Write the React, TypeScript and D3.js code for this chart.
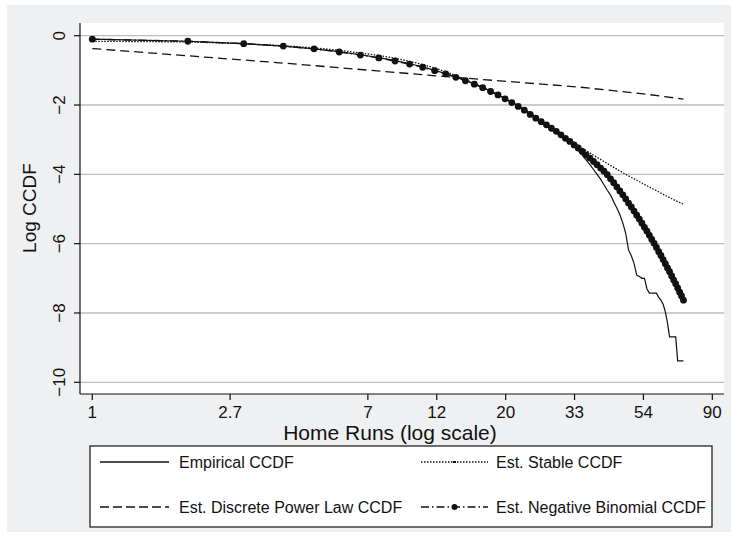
import React from 'react';
import * as d3 from 'd3';

// home runs (x) and log CCDF values
const nbX = d3.range(1, 74);
const nbY = [
  -0.10, -0.16, -0.23, -0.30, -0.38, -0.47, -0.56, -0.64, -0.73, -0.82,
  -0.91, -1.01, -1.10, -1.20, -1.30, -1.40, -1.50, -1.61, -1.71, -1.82,
  -1.93, -2.04, -2.15, -2.27, -2.38, -2.48, -2.57, -2.67, -2.76, -2.86,
  -2.96, -3.05, -3.15, -3.24, -3.34, -3.44, -3.53, -3.63, -3.72, -3.82,
  -3.91, -4.01, -4.13, -4.24, -4.36, -4.48, -4.59, -4.71, -4.83, -4.94,
  -5.06, -5.18, -5.29, -5.41, -5.53, -5.64, -5.76, -5.88, -5.99, -6.11,
  -6.23, -6.34, -6.46, -6.58, -6.70, -6.81, -6.93, -7.05, -7.16, -7.28,
  -7.40, -7.51, -7.63,
];

const empX = [
  1, 2, 3, 4, 5, 6, 7, 8, 9, 10, 11, 12, 13, 14, 15, 16, 17, 18, 19, 20,
  21, 22, 23, 24, 25, 26, 27, 28, 29, 30, 31, 32, 33, 34, 35, 36, 37, 38, 39, 40,
  41, 42, 43, 44, 45, 46, 47, 48, 49, 50, 51, 52, 53, 54, 55, 56, 57, 58, 59, 60,
  61, 62, 63, 64, 65, 66, 69, 70, 73,
];
const empY = [
  -0.10, -0.16, -0.23, -0.30, -0.38, -0.46, -0.55, -0.63, -0.72, -0.81,
  -0.90, -1.00, -1.09, -1.19, -1.29, -1.39, -1.49, -1.60, -1.70, -1.81,
  -1.92, -2.03, -2.14, -2.26, -2.37, -2.47, -2.57, -2.66, -2.76, -2.86,
  -2.96, -3.06, -3.17, -3.30, -3.44, -3.58, -3.72, -3.86, -4.00, -4.14,
  -4.30, -4.46, -4.60, -4.79, -4.97, -5.16, -5.40, -5.70, -6.18, -6.35,
  -6.57, -6.91, -6.95, -7.00, -7.00, -7.30, -7.43, -7.43, -7.43, -7.43,
  -7.55, -7.63, -7.75, -7.97, -8.28, -8.69, -8.69, -9.38, -9.38,
];

const stableX = [1, 2, 3, 4, 5, 6, 7, 8, 9, 10, 11, 12, 13, 14, 15, 16, 17, 18, 19, 20,
  22, 24, 26, 28, 30, 32, 35, 38, 41, 44, 48, 52, 56, 60, 65, 69, 73];
const stableY = [-0.16, -0.18, -0.23, -0.29, -0.35, -0.42, -0.50, -0.57, -0.65, -0.74,
  -0.83, -0.93, -1.04, -1.15, -1.27, -1.38, -1.49, -1.60, -1.71, -1.81,
  -2.02, -2.23, -2.44, -2.63, -2.82, -3.00, -3.24, -3.45, -3.63, -3.80,
  -4.00, -4.17, -4.33, -4.47, -4.64, -4.76, -4.86];

const plawX = [1, 4, 13, 34, 56, 73];
const plawY = [-0.37, -0.79, -1.18, -1.48, -1.69, -1.83];

// axis ticks: placed at powers of e, labelled rounded
const xTickLogs = [0, 1, 2, 2.5, 3, 3.5, 4, 4.5];
const xTickLabels = ['1', '2.7', '7', '12', '20', '33', '54', '90'];
const yTicks = [0, -2, -4, -6, -8, -10];

const FONT = '"Liberation Sans", Arial, Helvetica, sans-serif';
const INK = '#111';

export default function App() {
  const W = 731;
  const H = 537;
  const plot = { left: 80, right: 724, top: 23, bottom: 394 };

  const x = d3.scaleLog().domain([1, 90]).range([92.3, 712.3]);
  const y = d3.scaleLinear().domain([0, -10]).range([35.7, 382.3]);

  const line = d3
    .line<[number, number]>()
    .x((d) => x(d[0]))
    .y((d) => y(d[1]));

  const zip = (xs: number[], ys: number[]) => xs.map((v, i) => [v, ys[i]] as [number, number]);

  const nb = zip(nbX, nbY);
  const emp = zip(empX, empY);
  const stab = zip(stableX, stableY);
  const plaw = zip(plawX, plawY);

  // legend entries (two columns, two rows)
  const legendRows = [
    { x1: 100, x2: 169, tx: 179, ty: 468, label: 'Empirical CCDF', kind: 'solid' },
    { x1: 421, x2: 488, tx: 496, ty: 468, label: 'Est. Stable CCDF', kind: 'dot' },
    { x1: 100, x2: 169, tx: 179, ty: 513, label: 'Est. Discrete Power Law CCDF', kind: 'dash' },
    { x1: 421, x2: 488, tx: 496, ty: 513, label: 'Est. Negative Binomial CCDF', kind: 'nb' },
  ];

  return (
    <svg width={W} height={H} style={{ position: 'absolute', left: 0, top: 0 }} fontFamily={FONT}>
      <rect x={0} y={0} width={W} height={H} fill="#fff" />
      <rect x={7} y={5} width={W - 7} height={527} fill="#eff0f2" />
      <rect x={plot.left} y={plot.top} width={plot.right - plot.left} height={plot.bottom - plot.top} fill="#fff" />

      {/* gridlines */}
      {yTicks.map((t) => (
        <line key={'g' + t} x1={plot.left} x2={plot.right} y1={y(t)} y2={y(t)} stroke="#bdbdbd" strokeWidth={1.3} />
      ))}

      {/* curves */}
      <path d={line(plaw) || ''} fill="none" stroke={INK} strokeWidth={1.3} strokeDasharray="9,5" />
      <path d={line(stab) || ''} fill="none" stroke={INK} strokeWidth={1.3} strokeDasharray="1.5,1.5" />
      <path d={line(emp) || ''} fill="none" stroke={INK} strokeWidth={1.2} />
      <path d={line(nb) || ''} fill="none" stroke={INK} strokeWidth={1.4} strokeDasharray="8,3,1.5,3" />
      {nb.map((d) => (
        <circle key={'nb' + d[0]} cx={x(d[0])} cy={y(d[1])} r={3.4} fill={INK} />
      ))}

      {/* axes */}
      <line x1={plot.left} x2={plot.left} y1={plot.top} y2={plot.bottom} stroke={INK} strokeWidth={1.2} />
      <line x1={plot.left} x2={plot.right} y1={plot.bottom} y2={plot.bottom} stroke={INK} strokeWidth={1.2} />
      {yTicks.map((t) => (
        <g key={'yt' + t}>
          <line x1={plot.left - 6} x2={plot.left} y1={y(t)} y2={y(t)} stroke={INK} strokeWidth={1.2} />
          <text
            transform={`translate(65,${y(t)}) rotate(-90)`}
            textAnchor="middle"
            fontSize={17}
            fill={INK}
          >
            {t === 0 ? '0' : '\u2212' + Math.abs(t)}
          </text>
        </g>
      ))}
      {xTickLogs.map((l, i) => (
        <g key={'xt' + i}>
          <line x1={x(Math.exp(l))} x2={x(Math.exp(l))} y1={plot.bottom} y2={plot.bottom + 6} stroke={INK} strokeWidth={1.2} />
          <text x={x(Math.exp(l))} y={418} textAnchor="middle" fontSize={17} fill={INK}>
            {xTickLabels[i]}
          </text>
        </g>
      ))}
      <text x={390} y={440} textAnchor="middle" fontSize={21} fill={INK}>
        Home Runs (log scale)
      </text>
      <text transform="translate(36,208) rotate(-90)" textAnchor="middle" fontSize={19} fill={INK}>
        Log CCDF
      </text>

      {/* legend */}
      <rect x={90} y={446} width={622} height={81} fill="#fff" stroke={INK} strokeWidth={1.2} />
      {legendRows.map((r) => (
        <g key={r.label}>
          <line
            x1={r.x1}
            x2={r.x2}
            y1={r.ty - 6}
            y2={r.ty - 6}
            stroke={INK}
            strokeWidth={1.3}
            strokeDasharray={r.kind === 'dash' ? '9,4' : r.kind === 'dot' ? '1.5,1.5' : r.kind === 'nb' ? '8,3,1.5,3' : undefined}
          />
          {r.kind === 'nb' && <circle cx={(r.x1 + r.x2) / 2} cy={r.ty - 6} r={3} fill={INK} />}
          {r.kind === 'dot' && <rect x={(r.x1 + r.x2) / 2 - 1.5} y={r.ty - 7} width={3} height={2} fill={INK} />}
          <text x={r.tx} y={r.ty} fontSize={16} fill={INK}>
            {r.label}
          </text>
        </g>
      ))}
    </svg>
  );
}
